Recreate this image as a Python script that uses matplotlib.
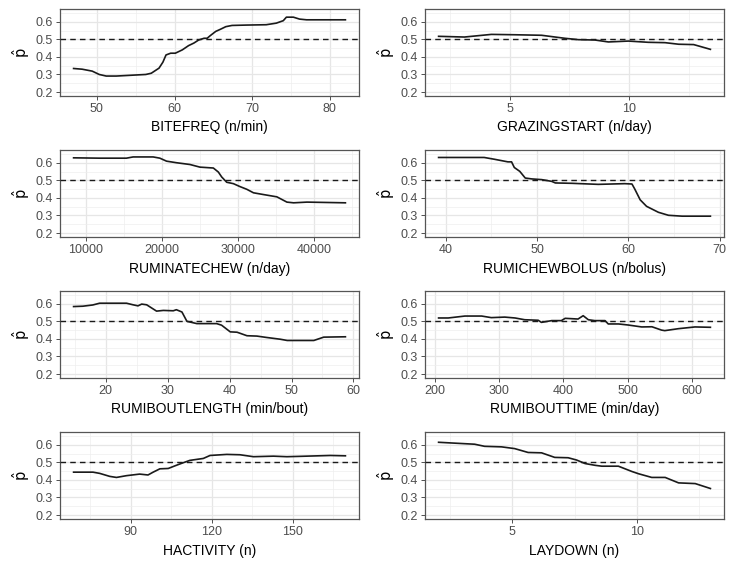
import numpy as np
import matplotlib
matplotlib.use("Agg")
from matplotlib import pyplot as plt
from matplotlib.ticker import MultipleLocator

plt.rcParams['font.family'] = ['Liberation Sans', 'DejaVu Sans']
plt.rcParams['mathtext.fontset'] = 'dejavusans'

# partial dependence curves
bitefreq_x = [47, 48.1, 49.4, 50.3, 51.2, 52.5, 54.6, 56.3, 57, 58, 58.5, 58.9, 59.5, 60.1, 61, 61.8,
              62.5, 63.1, 63.8, 64.2, 64.6, 65.3, 65.9, 66.6, 67.4, 69.2, 71.8, 73.1, 74, 74.4, 75.3,
              76.1, 77, 82]
bitefreq_y = [0.334, 0.330, 0.319, 0.300, 0.291, 0.291, 0.296, 0.300, 0.307, 0.336, 0.370, 0.411, 0.421,
              0.421, 0.440, 0.464, 0.479, 0.496, 0.506, 0.506, 0.521, 0.545, 0.557, 0.572, 0.579, 0.581,
              0.583, 0.592, 0.606, 0.626, 0.626, 0.615, 0.611, 0.611]

grazing_x = [2.02, 3.1, 4.23, 5.2, 6.33, 7.3, 7.87, 8.57, 9.13, 9.97, 10.8, 11.5, 12.07, 12.7, 13.4]
grazing_y = [0.517, 0.513, 0.528, 0.526, 0.523, 0.506, 0.498, 0.496, 0.485, 0.490, 0.483, 0.481,
             0.472, 0.470, 0.443]

ruminatechew_x = [8418, 11846, 15363, 16242, 18879, 19758, 20637, 21956, 23714, 25033, 26791, 27450,
                  27890, 28549, 29428, 30308, 31187, 32066, 33385, 35143, 36462, 37341, 39099, 44154]
ruminatechew_y = [0.628, 0.626, 0.626, 0.633, 0.633, 0.626, 0.609, 0.600, 0.590, 0.575, 0.570, 0.547,
                  0.519, 0.489, 0.481, 0.464, 0.449, 0.429, 0.419, 0.406, 0.376, 0.372, 0.376, 0.372]

rumichew_x = [39.2, 44.2, 45.3, 46.8, 47.2, 47.5, 48.1, 48.7, 49.4, 50.5, 51.6, 52, 53.8, 56.7, 59.6,
              60.4, 60.7, 61.3, 62, 63.3, 64.4, 65.9, 69]
rumichew_y = [0.630, 0.630, 0.620, 0.605, 0.605, 0.573, 0.551, 0.513, 0.508, 0.504, 0.494, 0.485, 0.483,
              0.477, 0.481, 0.479, 0.451, 0.389, 0.352, 0.318, 0.301, 0.296, 0.296]

boutlength_x = [14.8, 16.3, 17.9, 19.0, 23.35, 24.4, 25.2, 25.8, 26.6, 28.2, 29.3, 30.9, 31.4, 32.3,
                33.1, 34.7, 37.9, 38.7, 40.1, 41.2, 42.8, 44.4, 46.0, 48.2, 49.3, 53.6, 55.2, 58.7]
boutlength_y = [0.584, 0.586, 0.593, 0.603, 0.603, 0.594, 0.588, 0.598, 0.594, 0.558, 0.562, 0.560,
                0.566, 0.553, 0.500, 0.487, 0.487, 0.478, 0.440, 0.438, 0.418, 0.416, 0.408, 0.398,
                0.391, 0.391, 0.410, 0.412]

bouttime_x = [206, 221, 247, 273, 288, 309, 325, 340, 361, 366, 382, 397, 403, 423, 431, 439, 449,
              465, 470, 486, 501, 522, 538, 553, 558, 579, 605, 629]
bouttime_y = [0.519, 0.519, 0.530, 0.530, 0.521, 0.524, 0.519, 0.509, 0.506, 0.494, 0.504, 0.504,
              0.517, 0.513, 0.532, 0.509, 0.504, 0.504, 0.485, 0.485, 0.479, 0.468, 0.469, 0.450,
              0.447, 0.458, 0.468, 0.466]

hactivity_x = [68.8, 76, 78.5, 82.2, 84.7, 88.4, 93.3, 96.4, 98.3, 100.8, 103.9, 106.4, 108.8, 111.9,
               116.9, 119.4, 125.6, 130.5, 135.5, 142.9, 147.9, 152.8, 164, 169.6]
hactivity_y = [0.444, 0.444, 0.437, 0.420, 0.414, 0.424, 0.433, 0.428, 0.444, 0.463, 0.465, 0.480,
               0.494, 0.511, 0.522, 0.539, 0.545, 0.543, 0.532, 0.535, 0.532, 0.534, 0.539, 0.537]

laydown_x = [2.03, 3.08, 3.48, 3.88, 4.56, 5.09, 5.63, 6.17, 6.7, 7.24, 7.58, 7.92, 8.32, 8.59, 9.26,
             9.8, 10.07, 10.6, 11.14, 11.68, 12.35, 12.96]
laydown_y = [0.614, 0.606, 0.603, 0.591, 0.588, 0.578, 0.556, 0.554, 0.528, 0.526, 0.513, 0.493,
             0.483, 0.478, 0.478, 0.448, 0.435, 0.414, 0.414, 0.383, 0.379, 0.351]

labels = ["BITEFREQ (n/min)", "GRAZINGSTART (n/day)", "RUMINATECHEW (n/day)",
          "RUMICHEWBOLUS (n/bolus)", "RUMIBOUTLENGTH (min/bout)", "RUMIBOUTTIME (min/day)",
          "HACTIVITY (n)", "LAYDOWN (n)"]
xs = [bitefreq_x, grazing_x, ruminatechew_x, rumichew_x, boutlength_x, bouttime_x, hactivity_x, laydown_x]
ys = [bitefreq_y, grazing_y, ruminatechew_y, rumichew_y, boutlength_y, bouttime_y, hactivity_y, laydown_y]
xsteps = [10, 5, 10000, 10, 10, 100, 30, 5]

W, H = 729, 565
fig = plt.figure(figsize=(W / 100, H / 100), dpi=100)

col_left = [60, 425]
row_top = [9, 150, 291, 432]
pw, ph = 299, 87

for i in range(8):
    r, c = divmod(i, 2)
    ax = fig.add_axes([col_left[c] / W, 1 - (row_top[r] + ph) / H, pw / W, ph / H])
    ax.set_facecolor('white')
    ax.plot(xs[i], ys[i], color='#1a1a1a', lw=1.2, zorder=3)
    ax.axhline(0.5, color='#1a1a1a', lw=1.0, dashes=(4, 3), zorder=3)

    ax.set_ylim(0.1775, 0.6725)
    ax.margins(x=0.05)
    ax.xaxis.set_major_locator(MultipleLocator(xsteps[i]))
    ax.xaxis.set_minor_locator(MultipleLocator(xsteps[i] / 2))
    ax.yaxis.set_major_locator(MultipleLocator(0.1))
    ax.yaxis.set_minor_locator(MultipleLocator(0.05))
    ax.grid(which='major', color='#E6E6E6', lw=0.9, zorder=0)
    ax.grid(which='minor', color='#EEEEEE', lw=0.5, zorder=0)
    ax.set_axisbelow(True)

    ax.tick_params(which='major', length=3, width=0.6, color='#333333',
                   labelsize=9, labelcolor='#4D4D4D', pad=2)
    ax.tick_params(which='minor', length=0)
    ax.yaxis.set_major_formatter(plt.FuncFormatter(lambda v, p: "%.1f" % v))
    for s in ax.spines.values():
        s.set_color('#555555')
        s.set_linewidth(0.9)

    ax.set_xlabel(labels[i], fontsize=10, color='black', labelpad=4)
    ax.set_ylabel(r'$\hat{\mathrm{p}}$', fontsize=10.5, color='black', labelpad=3)

fig.savefig("out.png", dpi=100)
